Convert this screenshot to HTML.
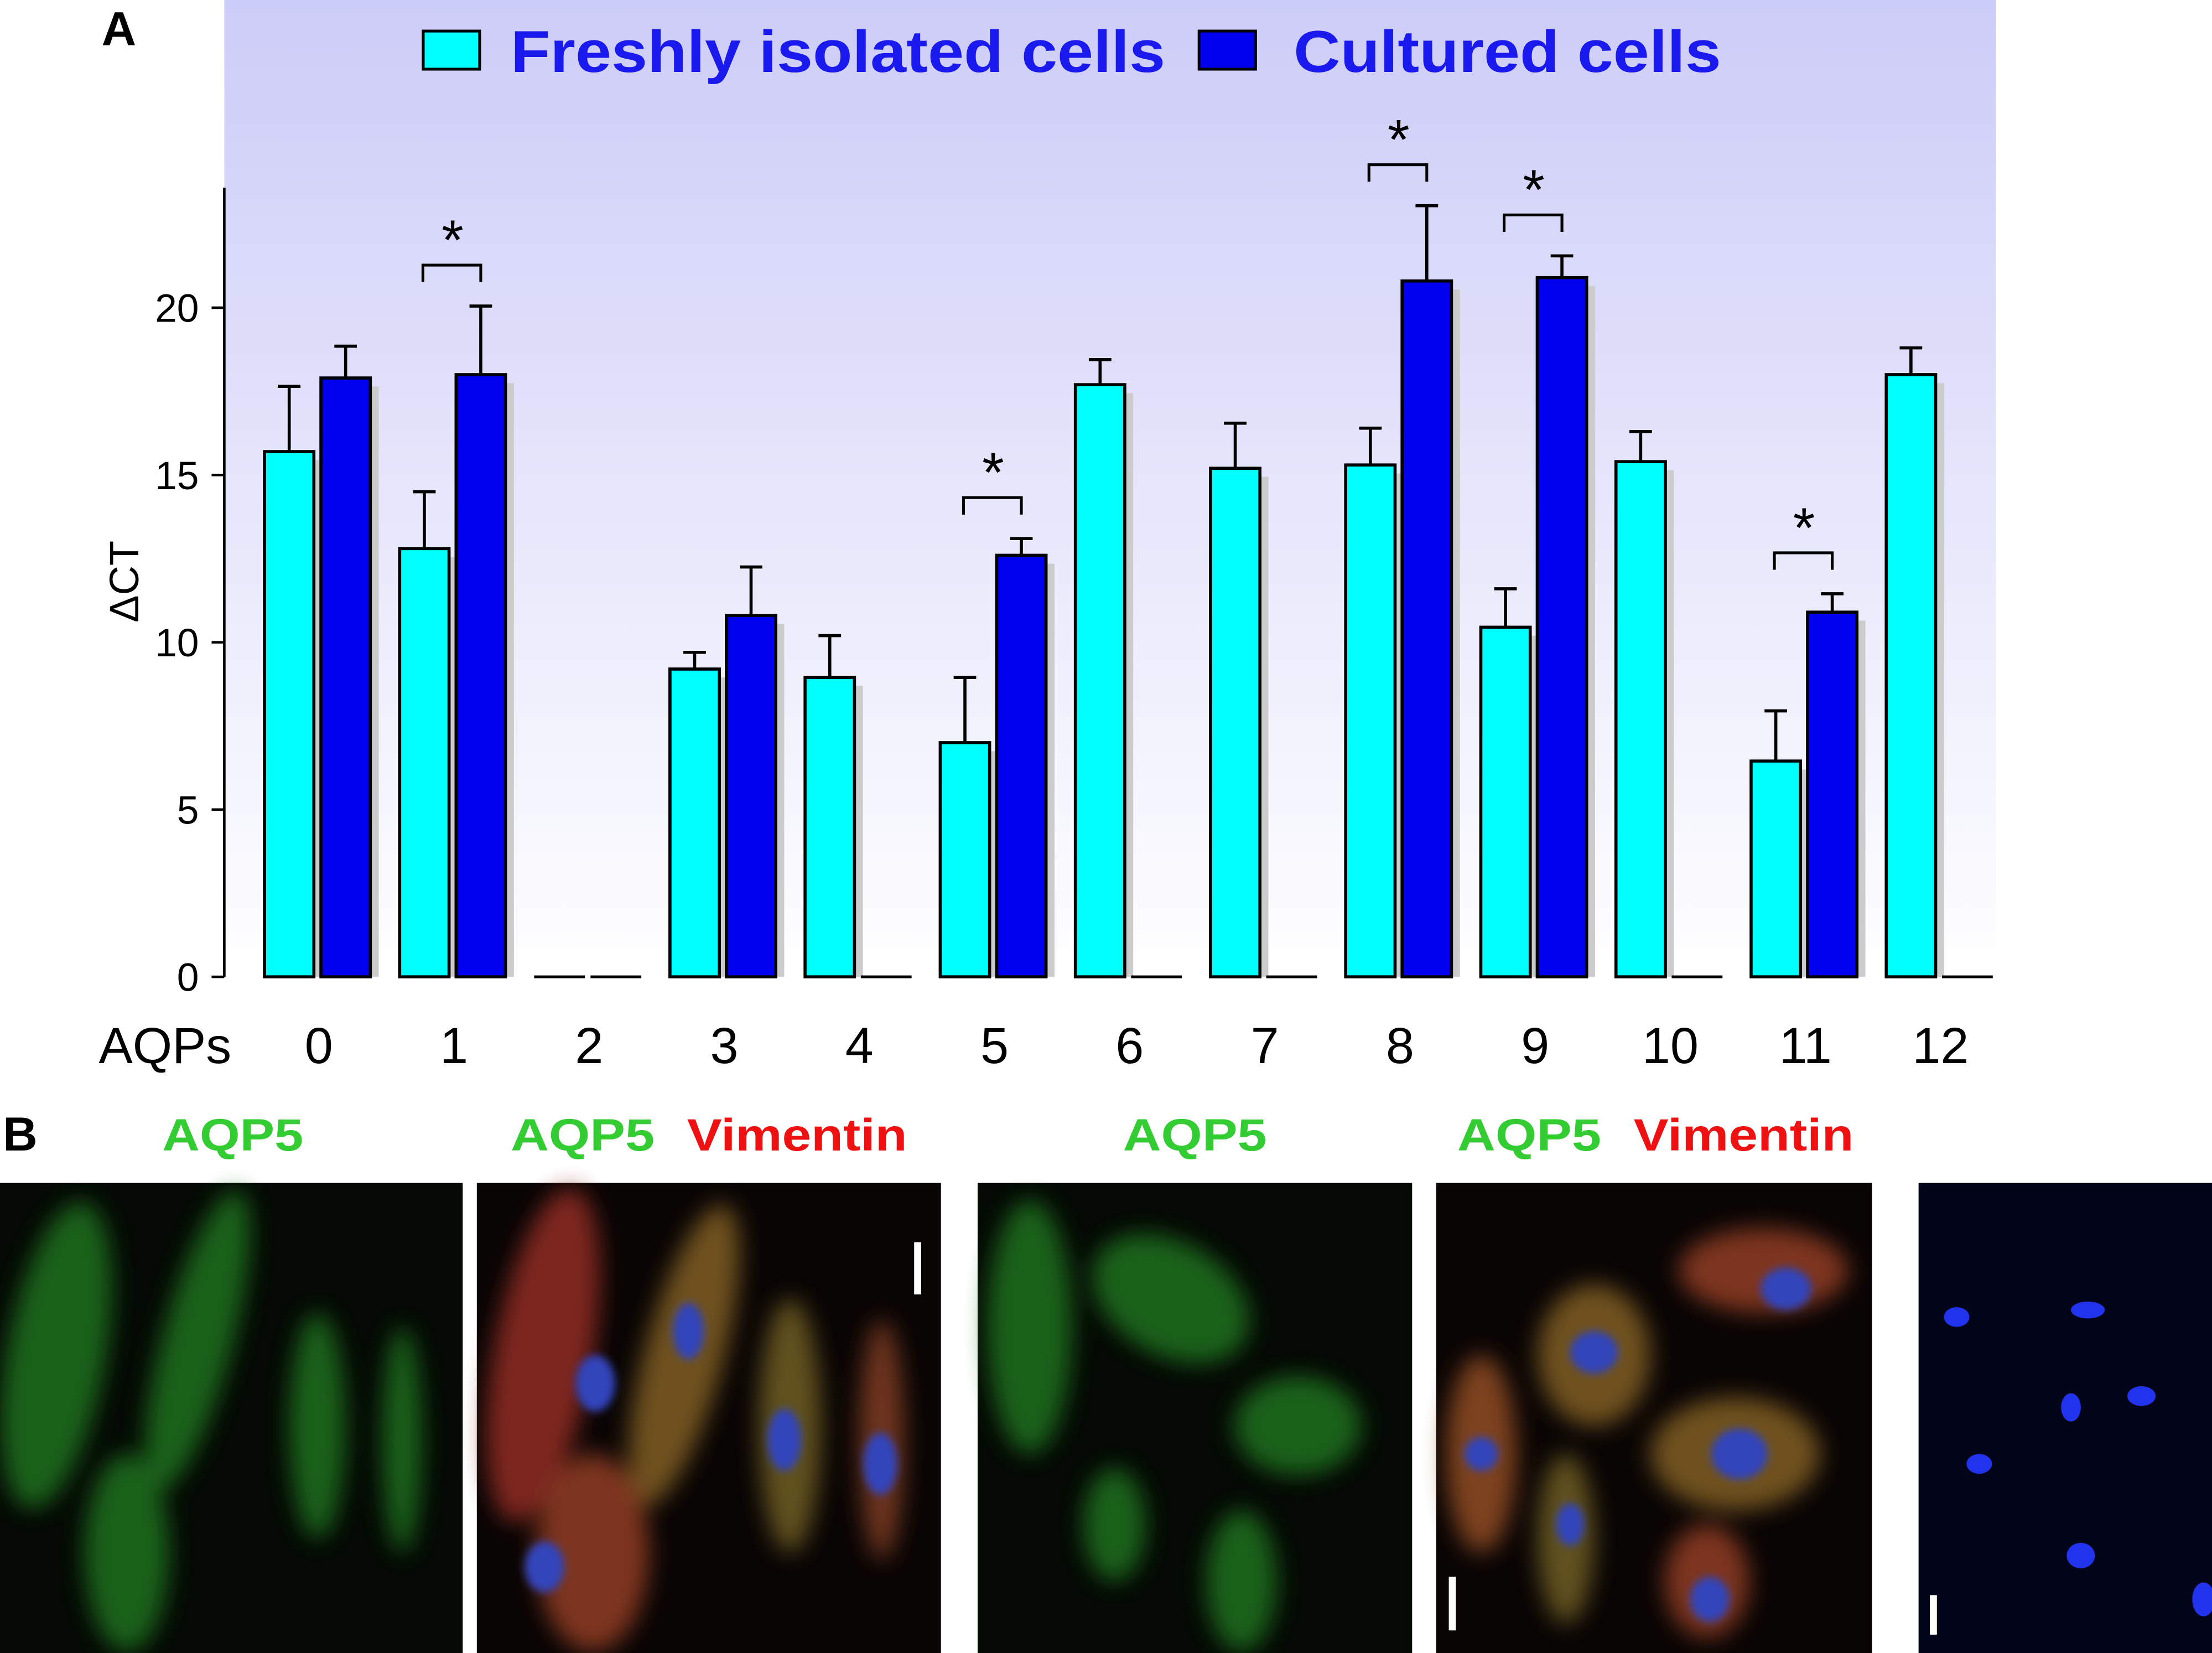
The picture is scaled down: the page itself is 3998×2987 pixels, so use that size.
<!DOCTYPE html>
<html><head><meta charset="utf-8">
<style>
html,body{margin:0;padding:0;background:#fff;}
svg{display:block;}
text{font-family:"Liberation Sans",Arial,sans-serif;}
</style></head>
<body>
<svg id="fig" width="3998" height="2987" viewBox="0 0 1568 1171" preserveAspectRatio="none" xmlns="http://www.w3.org/2000/svg">
<defs>
<linearGradient id="bg" x1="0" y1="0" x2="0" y2="1">
<stop offset="0" stop-color="#ccccf8"/>
<stop offset="1" stop-color="#ffffff"/>
</linearGradient>
<filter id="blur8"><feGaussianBlur stdDeviation="8"/></filter>
<filter id="blur3"><feGaussianBlur stdDeviation="3"/></filter>
</defs>
<rect x="159" y="0" width="1256" height="692" fill="url(#bg)"/>
<text x="72" y="32" font-size="34" font-weight="bold">A</text>
<g>
<rect x="300" y="22" width="40" height="27" fill="#00ffff" stroke="#000" stroke-width="2"/>
<text x="362" y="51" font-size="42" font-weight="bold" fill="#1a1aee" textLength="464" lengthAdjust="spacingAndGlyphs">Freshly isolated cells</text>
<rect x="850" y="22" width="40" height="27" fill="#0000ee" stroke="#000" stroke-width="2"/>
<text x="917" y="51" font-size="42" font-weight="bold" fill="#1a1aee" textLength="303" lengthAdjust="spacingAndGlyphs">Cultured cells</text>
</g>
<g id="axes"></g>
<g id="bars"></g>
<text transform="translate(98,412) rotate(-90)" text-anchor="middle" font-size="29">ΔCT</text>
<text x="70" y="753" font-size="36">AQPs</text>

<text x="2" y="815" font-size="34" font-weight="bold">B</text>
<g font-size="32" font-weight="bold">
<text x="115" y="815" fill="#33cc33" textLength="100" lengthAdjust="spacingAndGlyphs">AQP5</text>
<text x="362" y="815" fill="#33cc33" textLength="102" lengthAdjust="spacingAndGlyphs">AQP5</text>
<text x="487" y="815" fill="#ee1111" textLength="156" lengthAdjust="spacingAndGlyphs">Vimentin</text>
<text x="796" y="815" fill="#33cc33" textLength="102" lengthAdjust="spacingAndGlyphs">AQP5</text>
<text x="1033" y="815" fill="#33cc33" textLength="102" lengthAdjust="spacingAndGlyphs">AQP5</text>
<text x="1158" y="815" fill="#ee1111" textLength="156" lengthAdjust="spacingAndGlyphs">Vimentin</text>
</g>
<g>
<rect x="0" y="838" width="328" height="333" fill="#050a05"/>
<g filter="url(#blur8)" fill="#1e6a1e" opacity="0.9">
<ellipse cx="40" cy="960" rx="35" ry="110" transform="rotate(10 40 960)"/>
<ellipse cx="140" cy="950" rx="25" ry="110" transform="rotate(15 140 950)"/>
<ellipse cx="225" cy="1010" rx="20" ry="80"/>
<ellipse cx="285" cy="1020" rx="14" ry="80"/>
<ellipse cx="90" cy="1100" rx="30" ry="70"/>
</g></g>
<g>
<rect x="338" y="838" width="329" height="333" fill="#0a0505"/>
<g filter="url(#blur8)" opacity="0.9">
<ellipse cx="385" cy="960" rx="35" ry="120" fill="#8a2a20" transform="rotate(10 385 960)"/>
<ellipse cx="485" cy="960" rx="28" ry="110" fill="#7a5a20" transform="rotate(15 485 960)"/>
<ellipse cx="560" cy="1010" rx="22" ry="90" fill="#6a5a20"/>
<ellipse cx="625" cy="1020" rx="16" ry="85" fill="#7a3a20"/>
<ellipse cx="420" cy="1100" rx="40" ry="70" fill="#8a3a20"/>
</g>
<g fill="#3344bb" filter="url(#blur3)">
<ellipse cx="422" cy="980" rx="14" ry="20"/><ellipse cx="488" cy="943" rx="11" ry="20"/>
<ellipse cx="556" cy="1020" rx="12" ry="22"/><ellipse cx="624" cy="1037" rx="12" ry="22"/>
<ellipse cx="386" cy="1110" rx="14" ry="18"/></g>
<rect x="648" y="880" width="5" height="37" fill="#fff"/>
</g>
<g>
<rect x="693" y="838" width="308" height="333" fill="#050a05"/>
<g filter="url(#blur8)" fill="#1e6a1e" opacity="0.9">
<ellipse cx="730" cy="940" rx="30" ry="90"/>
<ellipse cx="830" cy="920" rx="60" ry="40" transform="rotate(30 830 920)"/>
<ellipse cx="920" cy="1010" rx="45" ry="35"/>
<ellipse cx="790" cy="1080" rx="22" ry="40"/>
<ellipse cx="880" cy="1120" rx="25" ry="50"/>
</g></g>
<g>
<rect x="1018" y="838" width="309" height="333" fill="#0a0505"/>
<g filter="url(#blur8)" opacity="0.9">
<ellipse cx="1250" cy="900" rx="60" ry="30" fill="#8a3a20"/>
<ellipse cx="1130" cy="960" rx="40" ry="50" fill="#7a5a20"/>
<ellipse cx="1230" cy="1030" rx="60" ry="40" fill="#7a5a20"/>
<ellipse cx="1050" cy="1030" rx="25" ry="70" fill="#8a4a20"/>
<ellipse cx="1110" cy="1090" rx="20" ry="60" fill="#6a5a20"/>
<ellipse cx="1210" cy="1120" rx="30" ry="40" fill="#8a3a20"/>
</g>
<g fill="#3344bb" filter="url(#blur3)">
<ellipse cx="1266" cy="913" rx="18" ry="15"/><ellipse cx="1130" cy="958" rx="17" ry="15"/>
<ellipse cx="1233" cy="1030" rx="20" ry="18"/><ellipse cx="1050" cy="1030" rx="12" ry="12"/>
<ellipse cx="1113" cy="1080" rx="10" ry="15"/><ellipse cx="1212" cy="1133" rx="14" ry="16"/></g>
<rect x="1027" y="1117" width="5" height="38" fill="#fff"/>
</g>
<g>
<rect x="1360" y="838" width="208" height="333" fill="#02051a"/>
<g fill="#2233ee">
<ellipse cx="1387" cy="933" rx="9" ry="7"/><ellipse cx="1480" cy="928" rx="12" ry="6"/>
<ellipse cx="1468" cy="997" rx="7" ry="10"/><ellipse cx="1518" cy="989" rx="10" ry="7"/>
<ellipse cx="1403" cy="1037" rx="9" ry="7"/><ellipse cx="1475" cy="1102" rx="10" ry="9"/>
<ellipse cx="1562" cy="1133" rx="8" ry="12"/></g>
<rect x="1368" y="1130" width="5" height="28" fill="#fff"/>
</g>
</svg>
<script>
const categories = ["0","1","2","3","4","5","6","7","8","9","10","11","12"];
const freshValues = [15.7,12.8,0,9.2,8.95,7.0,17.7,15.2,15.3,10.45,15.4,6.45,18.0];
const freshErr =    [1.95,1.7,0,0.5,1.25,1.95,0.75,1.35,1.1,1.15,0.9,1.5,0.8];
const culturedValues = [17.9,18.0,0,10.8,0,12.6,0,0,20.8,20.9,0,10.9,0];
const culturedErr =    [0.95,2.05,0,1.45,0,0.5,0,0,2.25,0.65,0,0.55,0];
const significant = [1,5,8,9,11];
const yTicks = [0,5,10,15,20];

const NS = "http://www.w3.org/2000/svg";
const y0 = 692, yPer = 23.7;
function yScale(v){ return y0 - v*yPer; }
function xCenter(i){ return 225 + i*95.8; }
function mk(tag, attrs, parent){
  const e = document.createElementNS(NS, tag);
  for (const k in attrs) e.setAttribute(k, attrs[k]);
  parent.appendChild(e); return e;
}
const axes = document.getElementById('axes');
const bars = document.getElementById('bars');

const yAxis = mk('line',{x1:159,y1:133,x2:159,y2:y0,stroke:'#000','stroke-width':1.8},axes);


yTicks.forEach(t=>{
  const tk = mk('line',{x1:150,x2:159,y1:yScale(t),y2:yScale(t),stroke:'#000','stroke-width':1.8},axes);
  
  
  const lb = mk('text',{x:141,y:yScale(t)+10,'text-anchor':'end','font-size':28},axes);
  lb.textContent = t;
  
  
});

const bw = 35;
function drawBar(cx, v, err, color, name){
  if (v === 0){
    const z = mk('line',{x1:cx-18,x2:cx+18,y1:y0,y2:y0,stroke:'#000','stroke-width':2},bars);
    
    
    return;
  }
  const x = cx - bw/2, y = yScale(v);
  const sh = mk('rect',{x:x+6,y:y+6,width:bw,height:y0-y-6,fill:'#cccccc'},bars);
  
  
  const ye = yScale(v+err);
  const eb = mk('path',{d:`M${cx} ${y} V${ye} M${cx-8} ${ye} H${cx+8}`,stroke:'#000','stroke-width':2.2,fill:'none'},bars);
  
  
  const r = mk('rect',{x:x,y:y,width:bw,height:y0-y,fill:color,stroke:'#000','stroke-width':2.2},bars);
  
  
}
categories.forEach((c,i)=>{
  const cx = xCenter(i);
  drawBar(cx-20, freshValues[i], freshErr[i], '#00ffff', 'bar-fresh-aqp'+c);
  drawBar(cx+20, culturedValues[i], culturedErr[i], '#0000ee', 'bar-cultured-aqp'+c);
  const lb = mk('text',{x:cx+1,y:753,'text-anchor':'middle','font-size':36},axes);
  lb.textContent = c;
  
  
});
significant.forEach(i=>{
  const cx = xCenter(i);
  const top = Math.max(freshValues[i]+freshErr[i], culturedValues[i]+culturedErr[i]);
  const by = yScale(top) - 29;
  const br = mk('path',{d:`M${cx-21} ${by+12} V${by} H${cx+20} V${by+12}`,stroke:'#000','stroke-width':2,fill:'none'},bars);
  
  
  const st = mk('text',{x:cx,y:by-4,'text-anchor':'middle','font-size':40},bars);
  st.textContent = '*';
  
  
});
</script>
</body></html>
